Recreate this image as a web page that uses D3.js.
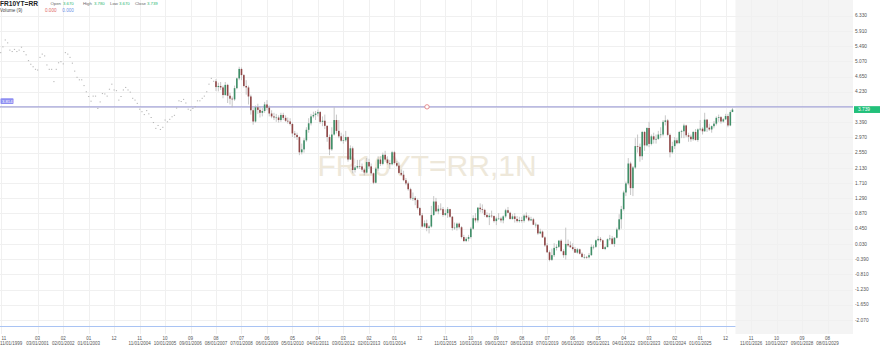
<!DOCTYPE html>
<html>
<head>
<meta charset="utf-8">
<script src="https://cdn.jsdelivr.net/npm/d3@7"></script>
<style>
  html, body { margin: 0; padding: 0; background: #ffffff; }
  svg { display: block; font-family: "Liberation Sans", Arial, sans-serif; }
</style>
</head>
<body>
<svg id="chart" width="880" height="347"></svg>
<script>
// ---------- DATA ----------
const symbol = "FR10YT=RR";
const watermark = "FR10YT=RR,1N";
const firstMonth = "1999-11";       // first monthly point
const firstCandleMonth = "2007-08"; // first month with full OHLC
const lastMonth = "2026-03";

// Nov 1999 .. Jul 2007 : close-only points (drawn as dots)
const earlyCloses = [
  5.31, 5.47,
  5.66, 5.58, 5.38, 5.34, 5.40, 5.34, 5.38, 5.46, 5.34, 5.25, 5.09, 4.99,
  4.92, 4.85, 4.83, 5.18, 5.27, 5.22, 4.97, 4.85, 4.85, 4.51, 4.85, 5.03,
  5.06, 5.00, 5.31, 5.27, 5.18, 5.02, 4.80, 4.63, 4.56, 4.56, 4.40, 4.23,
  4.10, 3.97, 4.11, 4.11, 3.77, 3.95, 4.18, 4.17, 4.11, 4.30, 4.44, 4.28,
  4.26, 4.00, 4.10, 4.28, 4.35, 4.28, 4.22, 4.05, 4.00, 3.91, 3.75, 3.68,
  3.60, 3.71, 3.62, 3.52, 3.38, 3.22, 3.30, 3.19, 3.25, 3.45, 3.40, 3.47,
  3.54, 3.58, 3.78, 3.98, 3.96, 4.02, 3.92, 3.75, 3.72, 3.77, 3.82, 3.98,
  3.98, 4.05, 4.11, 4.23, 4.44, 4.60, 4.52
];

// Aug 2007 .. Mar 2026 : monthly OHLC
const opens = [
  4.52,4.36,4.39,4.35,4.14,
  4.42,4.12,4.04,4.02,4.33,4.60,4.86,4.69,4.39,4.35,4.10,3.72,
  3.41,3.80,3.73,3.65,3.70,3.88,3.79,3.63,3.55,3.52,3.52,3.45,
  3.59,3.51,3.43,3.41,3.34,3.08,3.04,2.98,2.56,2.64,2.89,3.18,
  3.36,3.55,3.59,3.63,3.67,3.40,3.43,3.29,2.98,2.64,3.05,3.45,
  3.15,3.00,2.88,2.89,2.98,2.36,2.67,2.07,2.14,2.18,2.17,2.08,
  2.00,2.29,2.17,1.98,1.72,2.11,2.36,2.24,2.49,2.36,2.26,2.23,
  2.56,2.26,2.19,1.99,1.94,1.79,1.70,1.54,1.29,1.30,1.24,1.02,
  0.82,0.51,0.60,0.47,0.51,0.83,1.20,0.93,1.00,0.99,0.83,0.88,
  0.99,0.78,0.47,0.48,0.59,0.49,0.22,0.11,0.17,0.22,0.45,0.74,
  0.68,1.03,0.99,0.97,0.83,0.77,0.81,0.80,0.66,0.73,0.73,0.68,
  0.79,0.96,0.89,0.72,0.79,0.72,0.66,0.69,0.67,0.81,0.76,0.68,
  0.71,0.56,0.56,0.32,0.37,0.21,-0.01,-0.20,-0.41,-0.28,-0.08,-0.05,
  0.12,-0.17,-0.28,0.03,-0.01,-0.06,-0.11,-0.21,-0.12,-0.24,-0.33,-0.33,
  -0.34,-0.28,-0.05,-0.05,0.13,0.17,0.13,-0.11,-0.06,0.16,0.18,0.03,
  0.20,0.43,0.71,0.99,1.45,1.70,2.25,1.57,2.14,2.73,2.71,2.45,
  3.12,2.75,3.23,2.79,3.00,2.91,2.93,3.05,3.05,3.40,3.44,3.04,
  2.56,2.73,2.89,2.81,3.12,3.14,3.30,3.03,2.99,2.92,3.12,2.90,
  3.19,3.21,3.14,3.46,3.24,3.19,3.28,3.35,3.51,3.53,3.41,3.47,
  3.56,3.30,3.670
];
const highs = [
  4.58,4.48,4.50,4.40,4.50,
  4.45,4.20,4.10,4.40,4.62,4.92,4.90,4.72,4.55,4.40,4.15,3.78,
  3.85,3.90,3.82,3.78,3.95,4.00,3.85,3.72,3.65,3.62,3.58,3.65,
  3.65,3.58,3.52,3.50,3.38,3.15,3.10,3.00,2.80,2.95,3.25,3.50,
  3.62,3.68,3.70,3.74,3.70,3.55,3.60,3.30,3.05,3.25,3.80,3.60,
  3.45,3.10,3.05,3.15,3.00,2.75,2.72,2.20,2.35,2.35,2.25,2.12,
  2.40,2.38,2.25,2.00,2.15,2.45,2.45,2.55,2.60,2.45,2.35,2.60,
  2.60,2.32,2.28,2.08,2.05,1.85,1.75,1.58,1.45,1.35,1.28,1.05,
  0.88,0.68,0.70,0.55,1.08,1.35,1.30,1.10,1.15,1.05,0.98,1.05,
  1.00,0.80,0.62,0.62,0.62,0.52,0.28,0.22,0.28,0.50,0.82,0.88,
  1.05,1.15,1.12,1.00,0.90,0.88,0.95,0.82,0.78,0.88,0.78,0.82,
  1.00,1.05,0.92,0.85,0.88,0.80,0.78,0.78,0.85,0.90,0.82,0.78,
  0.75,0.62,0.58,0.45,0.40,0.24,0.05,-0.15,-0.10,0.05,0.02,0.14,
  0.16,-0.12,0.48,0.15,0.10,0.05,-0.05,-0.08,-0.10,-0.20,-0.25,-0.30,
  -0.22,0.02,0.00,0.15,0.25,0.22,0.15,-0.02,0.18,0.28,0.25,0.22,
  0.48,0.85,1.08,1.50,1.75,2.40,2.30,2.18,2.95,3.05,2.80,3.15,
  3.15,3.25,3.40,3.05,3.10,3.05,3.15,3.25,3.45,3.58,3.48,3.08,
  2.85,2.98,2.95,3.15,3.18,3.35,3.32,3.10,3.05,3.15,3.20,3.22,
  3.45,3.25,3.65,3.48,3.35,3.30,3.42,3.55,3.60,3.56,3.50,3.62,
  3.62,3.72,3.780
];
const lows = [
  4.25,4.24,4.28,4.05,4.12,
  3.92,3.88,3.80,3.98,4.30,4.55,4.55,4.35,4.15,3.88,3.60,3.32,
  3.38,3.62,3.52,3.55,3.65,3.72,3.55,3.50,3.45,3.40,3.38,3.40,
  3.45,3.40,3.35,3.30,2.98,2.95,2.90,2.48,2.50,2.55,2.85,3.10,
  3.30,3.50,3.45,3.55,3.35,3.28,3.20,2.85,2.48,2.60,3.02,3.08,
  2.95,2.85,2.80,2.85,2.30,2.35,1.98,2.00,2.10,2.10,2.02,1.92,
  1.98,2.10,1.95,1.68,1.70,2.05,2.18,2.20,2.30,2.22,2.10,2.20,
  2.22,2.15,1.95,1.90,1.76,1.65,1.50,1.25,1.22,1.10,0.98,0.80,
  0.48,0.48,0.38,0.32,0.48,0.80,0.90,0.85,0.95,0.78,0.80,0.75,
  0.75,0.40,0.42,0.40,0.45,0.18,0.08,0.08,0.10,0.18,0.42,0.62,
  0.62,0.90,0.88,0.78,0.75,0.55,0.75,0.62,0.55,0.70,0.62,0.60,
  0.75,0.88,0.70,0.70,0.62,0.62,0.62,0.62,0.62,0.72,0.65,0.66,
  0.55,0.48,0.28,0.30,0.20,-0.05,-0.22,-0.45,-0.44,-0.33,-0.15,-0.08,
  -0.18,-0.35,-0.40,-0.05,-0.08,-0.15,-0.22,-0.24,-0.26,-0.36,-0.38,-0.38,
  -0.37,-0.30,-0.12,-0.08,0.10,0.08,-0.12,-0.14,-0.06,0.12,0.00,-0.05,
  0.18,0.40,0.45,0.95,1.35,1.65,1.38,1.35,2.10,2.55,2.30,2.35,
  2.60,2.72,2.70,2.75,2.80,2.80,2.90,2.95,3.00,3.30,3.00,2.42,
  2.52,2.65,2.78,2.80,2.95,2.95,2.98,2.85,2.85,2.88,2.88,2.85,
  3.15,3.05,3.12,3.12,3.15,3.10,3.22,3.30,3.40,3.35,3.38,3.45,
  3.25,3.28,3.670
];
const closes = [
  4.36,4.39,4.35,4.14,4.42,
  4.12,4.04,4.02,4.33,4.60,4.86,4.69,4.39,4.35,4.10,3.72,3.41,
  3.80,3.73,3.65,3.70,3.88,3.79,3.63,3.55,3.52,3.52,3.45,3.59,
  3.51,3.43,3.41,3.34,3.08,3.04,2.98,2.56,2.64,2.89,3.18,3.36,
  3.55,3.59,3.63,3.67,3.40,3.43,3.29,2.98,2.64,3.05,3.45,3.15,
  3.00,2.88,2.89,2.98,2.36,2.67,2.07,2.14,2.18,2.17,2.08,2.00,
  2.29,2.17,1.98,1.72,2.11,2.36,2.24,2.49,2.36,2.26,2.23,2.56,
  2.26,2.19,1.99,1.94,1.79,1.70,1.54,1.29,1.30,1.24,1.02,0.82,
  0.51,0.60,0.47,0.51,0.83,1.20,0.93,1.00,0.99,0.83,0.88,0.99,
  0.78,0.47,0.48,0.59,0.49,0.22,0.11,0.17,0.22,0.45,0.74,0.68,
  1.03,0.99,0.97,0.83,0.77,0.81,0.80,0.66,0.73,0.73,0.68,0.79,
  0.96,0.89,0.72,0.79,0.72,0.66,0.69,0.67,0.81,0.76,0.68,0.71,
  0.56,0.56,0.32,0.37,0.21,-0.01,-0.20,-0.41,-0.28,-0.08,-0.05,0.12,
  -0.17,-0.28,0.03,-0.01,-0.06,-0.11,-0.21,-0.12,-0.24,-0.33,-0.33,-0.34,
  -0.28,-0.05,-0.05,0.13,0.17,0.13,-0.11,-0.06,0.16,0.18,0.03,0.20,
  0.43,0.71,0.99,1.45,1.70,2.25,1.57,2.14,2.73,2.71,2.45,3.12,
  2.75,3.23,2.79,3.00,2.91,2.93,3.05,3.05,3.40,3.44,3.04,2.56,
  2.73,2.89,2.81,3.12,3.14,3.30,3.03,2.99,2.92,3.12,2.90,3.19,
  3.21,3.14,3.46,3.24,3.19,3.28,3.35,3.51,3.53,3.41,3.47,3.56,
  3.30,3.67,3.739
];

const yTickValues = [6.33,5.91,5.49,5.07,4.65,4.23,3.81,3.39,2.97,2.55,2.13,1.71,1.29,0.87,0.45,0.03,-0.39,-0.81,-1.23,-1.65,-2.07];
const xTickMonths = ["1999-11","2001-03","2002-02","2003-01","2003-12","2004-11","2005-10","2006-09","2007-08","2008-07","2009-06","2010-05","2011-04","2012-03","2013-02","2014-01","2014-12","2015-11","2016-10","2017-09","2018-08","2019-07","2020-06","2021-05","2022-04","2023-03","2024-02","2025-01","2025-12","2026-11","2027-10","2028-09","2029-08"];
const axisStart = "1999-11";
const axisEnd = "2029-08";

const headerLabels = ["Open", "High", "Low", "Close"];
const headerValues = ["3.670", "3.780", "3.670", "3.739"];
const volumeValues = ["0.000", "0.000"];
const hLineValue = 3.814;
const lastValue = 3.739;

// ---------- SCALES ----------
const parseM = d3.timeParse("%Y-%m");
const svg = d3.select("#chart");
const plotRight = 853;

const x = d3.scaleTime().domain([parseM(axisStart), parseM(axisEnd)]).range([0.64, 827.5]);
const y = d3.scaleLinear().domain([-2.07, 6.33]).range([320, 15.7]);

const earlyDates = d3.timeMonth.range(parseM(firstMonth), parseM(firstCandleMonth));
const candleDates = d3.timeMonth.range(parseM(firstCandleMonth), d3.timeMonth.offset(parseM(lastMonth), 1));
const early = earlyDates.map((d, i) => ({ date: d, c: earlyCloses[i] }));
const candles = candleDates.map((d, i) => ({ date: d, o: opens[i], h: highs[i], l: lows[i], c: closes[i] }));
const lastX = x(candleDates[candleDates.length - 1]);

// ---------- BACKGROUND ----------
svg.append("rect")
  .attr("x", lastX + 3).attr("y", 0)
  .attr("width", plotRight - lastX - 3).attr("height", 334)
  .attr("fill", "#f4f4f4");

const grid = svg.append("g");
grid.selectAll("line.h").data(yTickValues).join("line")
  .attr("x1", 0).attr("x2", plotRight)
  .attr("y1", d => Math.round(y(d)) + 0.5).attr("y2", d => Math.round(y(d)) + 0.5)
  .attr("stroke", "#f0f0f0").attr("stroke-width", 1);
grid.selectAll("line.v").data(xTickMonths).join("line")
  .attr("x1", d => Math.round(x(parseM(d))) + 0.5).attr("x2", d => Math.round(x(parseM(d))) + 0.5)
  .attr("y1", 0).attr("y2", 334)
  .attr("stroke", "#f0f0f0").attr("stroke-width", 1);

svg.append("text")
  .attr("x", 427).attr("y", 176)
  .attr("text-anchor", "middle")
  .attr("font-size", 30)
  .attr("fill", "#eee8da")
  .text(watermark);

svg.append("line")
  .attr("x1", 0).attr("x2", plotRight)
  .attr("y1", y(hLineValue)).attr("y2", y(hLineValue))
  .attr("stroke", "#a5a5d8").attr("stroke-width", 1.2);
svg.append("circle")
  .attr("cx", 427).attr("cy", y(hLineValue)).attr("r", 2.2)
  .attr("fill", "#fff").attr("stroke", "#e07575").attr("stroke-width", 0.8);

svg.append("line")
  .attr("x1", 0).attr("x2", lastX + 3)
  .attr("y1", 326.5).attr("y2", 326.5)
  .attr("stroke", "#a9c3f3").attr("stroke-width", 1);

// ---------- MARKS ----------
svg.append("g").selectAll("rect").data(early).join("rect")
  .attr("x", d => x(d.date) - 0.6)
  .attr("y", d => y(d.c) - 0.5)
  .attr("width", 1.2).attr("height", 1)
  .attr("fill", "#b4b4b4");

const cg = svg.append("g");
cg.selectAll("line").data(candles).join("line")
  .attr("x1", d => x(d.date)).attr("x2", d => x(d.date))
  .attr("y1", d => y(d.h)).attr("y2", d => y(d.l))
  .attr("stroke", "#b9b9b9").attr("stroke-width", 0.8);
cg.selectAll("rect").data(candles).join("rect")
  .attr("x", d => x(d.date) - 0.8)
  .attr("y", d => y(Math.max(d.o, d.c)))
  .attr("width", 1.6)
  .attr("height", d => Math.max(0.6, Math.abs(y(d.o) - y(d.c))))
  .attr("fill", d => d.c >= d.o ? "#3f8f68" : "#8f4646");

// ---------- AXES ----------
const yAxis = svg.append("g");
yAxis.selectAll("text").data(yTickValues.filter(v => Math.abs(y(v) - y(lastValue)) > 5)).join("text")
  .attr("x", 855).attr("y", d => y(d) + 1.7)
  .attr("font-size", 4.8).attr("fill", "#555")
  .text(d => d.toFixed(3));

const fmtM = d3.timeFormat("%m");
const fmtD = d3.timeFormat("%m/%d/%Y");
const xAxis = svg.append("g");
xTickMonths.forEach((m, i) => {
  const d = parseM(m);
  const px = x(d);
  const anchor = i === 0 ? "start" : "middle";
  xAxis.append("text")
    .attr("x", i === 0 ? 1.5 : px).attr("y", 340.2)
    .attr("text-anchor", anchor)
    .attr("font-size", 4.5).attr("fill", "#555")
    .text(fmtM(d));
  if (d.getMonth() !== 11) {
    xAxis.append("text")
      .attr("x", i === 0 ? 0 : px).attr("y", 345)
      .attr("text-anchor", anchor)
      .attr("font-size", 4.5).attr("fill", "#555")
      .text(fmtD(d));
  }
});

svg.append("rect")
  .attr("x", plotRight + 1).attr("y", y(lastValue) - 3.4)
  .attr("width", 27).attr("height", 6.8)
  .attr("fill", "#22c07a");
svg.append("text")
  .attr("x", plotRight + 5).attr("y", y(lastValue) + 1.7)
  .attr("font-size", 4.8).attr("fill", "#fff")
  .text(lastValue.toFixed(3));

svg.append("rect")
  .attr("x", 0.5).attr("y", y(hLineValue) - 8.5)
  .attr("width", 13).attr("height", 5.6).attr("rx", 0.8)
  .attr("fill", "#8e8ef2");
svg.append("text")
  .attr("x", 2).attr("y", y(hLineValue) - 4.3)
  .attr("font-size", 4.2).attr("fill", "#fff")
  .text(hLineValue.toFixed(3));

// ---------- HEADER ----------
svg.append("text").attr("x", 0).attr("y", 6.3)
  .attr("font-size", 6.6).attr("font-weight", "bold").attr("fill", "#222")
  .text(symbol);
const labelX = [50.5, 83, 110, 135];
const valueX = [63, 94, 119, 147];
headerLabels.forEach((lab, i) => {
  svg.append("text").attr("x", labelX[i]).attr("y", 5.2).attr("font-size", 4.3).attr("fill", "#666").text(lab);
  svg.append("text").attr("x", valueX[i]).attr("y", 5.2).attr("font-size", 4.3).attr("fill", "#2bb673").text(headerValues[i]);
});
svg.append("text").attr("x", 0).attr("y", 12.3).attr("font-size", 4.6).attr("fill", "#444").text("Volume (9)");
svg.append("text").attr("x", 45).attr("y", 12.3).attr("font-size", 4.6).attr("fill", "#e06666").text(volumeValues[0]);
svg.append("text").attr("x", 62.3).attr("y", 12.3).attr("font-size", 4.6).attr("fill", "#6a8fe6").text(volumeValues[1]);
</script>
</body>
</html>
